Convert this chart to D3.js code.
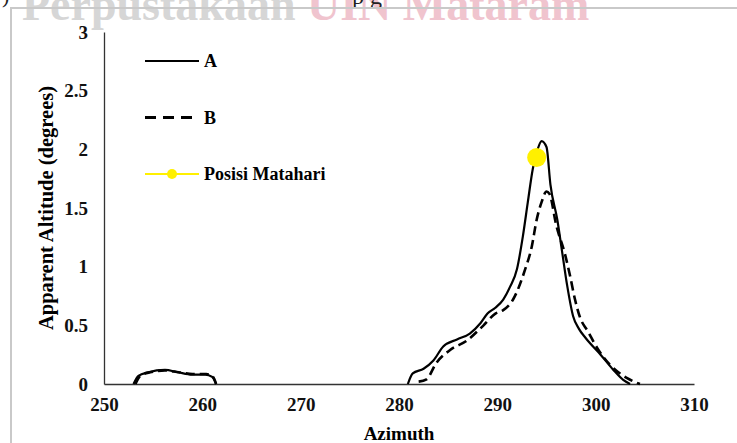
<!DOCTYPE html>
<html>
<head>
<meta charset="utf-8">
<script src="https://cdn.jsdelivr.net/npm/d3@7"></script>
<style>
  body { margin: 0; background: #fff; }
  svg text { font-family: "Liberation Serif", "Times New Roman", serif; }
</style>
</head>
<body>
<div id="chart"></div>
<script>
/*
 * Azimuth vs apparent altitude, two horizon profiles + sun position
 */

var width = 737;
var height = 443;

// tick labels
var xTicks = [250, 260, 270, 280, 290, 300, 310];
var yTicks = [0, 0.5, 1, 1.5, 2, 2.5, 3];
var yTickLabels = ['0', '0.5', '1', '1.5', '2', '2.5', '3'];

// series A (solid), null = gap
var azimuthA = [253.0, 253.5, 254.5, 256.2, 257.5, 259.0, 260.3, 261.0, 261.4, null,
  280.9, 281.4, 282.5, 283.5, 284.5, 285.9, 287.2, 288.3, 289.0, 289.8, 290.6, 291.3,
  292.0, 292.6, 293.1, 293.6, 294.1, 294.5, 295.0, 295.4, 296.1, 296.6, 297.1, 297.7,
  298.3, 299.0, 300.5, 301.8, 302.8, 303.5];
var altitudeA = [0, 0.07, 0.1, 0.12, 0.1, 0.08, 0.08, 0.06, 0, null,
  0, 0.09, 0.13, 0.2, 0.32, 0.38, 0.43, 0.52, 0.6, 0.65, 0.72, 0.83,
  0.98, 1.26, 1.55, 1.83, 2.0, 2.07, 2.02, 1.7, 1.4, 1.12, 0.84, 0.58,
  0.47, 0.39, 0.25, 0.12, 0.035, 0];

// series B (dashed)
var azimuthB = [253.2, 253.7, 254.7, 256.2, 257.6, 259.0, 260.4, 261.1, 261.4, null,
  282.0, 282.8, 283.8, 285.2, 286.9, 288.6, 289.8, 290.6, 291.6, 292.8, 293.5, 294.0,
  294.5, 295.0, 295.3, 296.0, 296.9, 297.4, 297.9, 298.4, 299.2, 300.2, 301.5, 303.2, 304.5];
var altitudeB = [0, 0.07, 0.1, 0.115, 0.1, 0.085, 0.085, 0.06, 0, null,
  0.02, 0.04, 0.18, 0.29, 0.37, 0.5, 0.6, 0.63, 0.72, 0.97, 1.17, 1.4,
  1.55, 1.64, 1.62, 1.35, 1.1, 0.92, 0.72, 0.57, 0.45, 0.3, 0.16, 0.05, 0];

// sun position
var sunAzimuth = [294.0];
var sunAltitude = [1.93];

var legendNames = ['A', 'B', 'Posisi Matahari'];

var svg = d3.select('#chart')
  .append('svg')
  .attr('width', width)
  .attr('height', height)

// scanned page bits: watermark, cut-off text line, frame
var wm = svg.append('text')
  .attr('x', 22).attr('y', 20)
  .style('font-size', '46px').style('font-weight', 'bold')
wm.append('tspan').style('fill', '#d6d6d6').text('Perpustakaan ')
wm.append('tspan').style('fill', '#f0c4ce').text('UIN Mataram')

svg.append('text')
  .attr('x', 2).attr('y', 3)
  .style('font-size', '22px')
  .style('fill', '#222')
  .text(')')
svg.append('text')
  .attr('x', 352).attr('y', 4)
  .style('font-size', '24px')
  .style('fill', '#222')
  .text('p g')

svg.append('path')
  .attr('d', 'M11,443 L11,8 L737,8')
  .attr('fill', 'none')
  .attr('stroke', '#c9c9c9')
  .attr('stroke-width', 2)

var x = d3.scaleLinear().domain([250, 310]).range([104, 694]);
var y = d3.scaleLinear().domain([0, 3]).range([384, 32]);

var g = svg.append('g')

// axes (no tick marks, labels only)
var xAxis = g.append('g')
  .attr('transform', 'translate(0,' + y(0) + ')')
  .call(d3.axisBottom(x).tickValues(xTicks).tickSize(0).tickPadding(14).tickFormat(d3.format('d')))
var yAxis = g.append('g')
  .attr('transform', 'translate(' + x(250) + ',0)')
  .call(d3.axisLeft(y).tickValues(yTicks).tickSize(0).tickPadding(16)
    .tickFormat((d, i) => yTickLabels[i]))

;[xAxis, yAxis].forEach(ax => {
  ax.select('.domain').attr('stroke', '#333').attr('stroke-width', 1.3)
  ax.selectAll('text')
    .style('font-family', '"Liberation Serif", "Times New Roman", serif')
    .style('font-size', '19px')
    .style('font-weight', 'bold')
    .style('fill', '#111')
})

// axis titles
svg.append('text')
  .attr('x', (x(250) + x(310)) / 2).attr('y', 440)
  .attr('text-anchor', 'middle')
  .style('font-size', '19px').style('font-weight', 'bold')
  .text('Azimuth')
svg.append('text')
  .attr('transform', 'translate(53,' + (y(0) + y(3)) / 2 + ') rotate(-90)')
  .attr('text-anchor', 'middle')
  .style('font-size', '20.5px').style('font-weight', 'bold')
  .text('Apparent Altitude (degrees)')

var toPoints = (az, alt) => az.map((a, i) => ({ az: a, alt: alt[i] }))

var lineGenerator = d3.line()
  .defined(d => d.az != null)
  .x(d => x(d.az))
  .y(d => y(d.alt))
  .curve(d3.curveMonotoneX)

g.append('path')
  .datum(toPoints(azimuthB, altitudeB))
  .attr('d', lineGenerator)
  .attr('fill', 'none')
  .attr('stroke', '#000')
  .attr('stroke-width', 2.6)
  .attr('stroke-dasharray', '9,5')

g.append('path')
  .datum(toPoints(azimuthA, altitudeA))
  .attr('d', lineGenerator)
  .attr('fill', 'none')
  .attr('stroke', '#000')
  .attr('stroke-width', 2.2)

g.selectAll('circle.sun')
  .data(toPoints(sunAzimuth, sunAltitude))
  .enter()
  .append('circle')
  .attr('class', 'sun')
  .attr('cx', d => x(d.az))
  .attr('cy', d => y(d.alt))
  .attr('r', 9.5)
  .attr('fill', '#fff000')

// legend
var legend = svg.append('g').attr('transform', 'translate(145,61)')
var legendItems = legend.selectAll('g')
  .data(legendNames)
  .enter()
  .append('g')
  .attr('transform', (d, i) => 'translate(0,' + i * 56.5 + ')')

legendItems.append('line')
  .attr('x1', 0).attr('x2', 54)
  .attr('stroke', (d, i) => i === 2 ? '#fff000' : '#000')
  .attr('stroke-width', (d, i) => i === 1 ? 3 : 2)
  .attr('stroke-dasharray', (d, i) => i === 1 ? '11,7' : null)

legendItems.filter((d, i) => i === 2)
  .append('circle')
  .attr('cx', 27).attr('r', 5)
  .attr('fill', '#fff000')

legendItems.append('text')
  .attr('x', 59).attr('dy', '0.35em')
  .style('font-size', '18px').style('font-weight', 'bold')
  .text(d => d)
</script>
</body>
</html>
